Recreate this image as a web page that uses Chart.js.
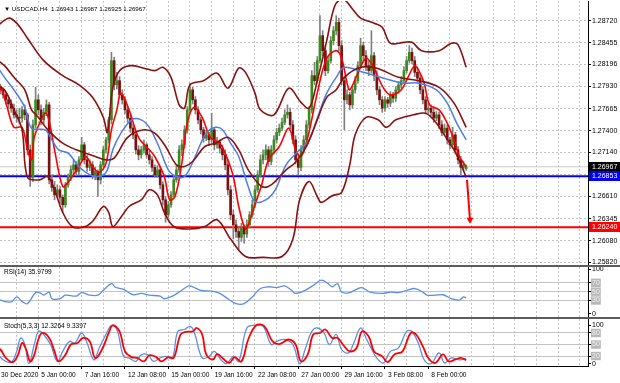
<!DOCTYPE html>
<html>
<head>
<meta charset="utf-8">
<script src="https://cdn.jsdelivr.net/npm/chart.js@4.4.0/dist/chart.umd.min.js"></script>
<style>
  body { margin: 0; width: 620px; height: 383px; overflow: hidden; position: relative; background: #5c5c5c; }
  .pane { position: absolute; left: 0; width: 620px; background: #fff; }
  canvas { display: block; }
  .lbl { position: absolute; left: 4px; font: 6.5px "Liberation Sans", Arial, sans-serif; color: #000; white-space: pre; }
</style>
</head>
<body>
<div class="pane" style="top:0;height:265px"><canvas id="cMain" width="620" height="265"></canvas></div>
<div class="pane" style="top:267px;height:50px"><canvas id="cRsi" width="620" height="50"></canvas></div>
<div class="pane" style="top:319px;height:64px"><canvas id="cSto" width="620" height="64"></canvas></div>
<div class="lbl" id="tMain" style="top:5px;font-size:6.2px"></div>
<div class="lbl" id="tRsi" style="top:268px"></div>
<div class="lbl" id="tSto" style="top:322px"></div>

<script>
// ---- data: USDCAD H4 candles (bar index 0 .. 174) ----
const openP = [
  1.2803,1.2798,1.2793,1.2789,1.2783,1.2777,1.2772,1.2767,1.2759,1.2756,
  1.2755,1.2765,1.2759,1.2717,1.2684,1.2747,1.2777,1.2765,1.2753,1.2762,
  1.2771,1.2681,1.2672,1.2663,1.2669,1.2660,1.2651,1.2675,1.2684,1.2693,
  1.2699,1.2691,1.2705,1.2723,1.2705,1.2696,1.2699,1.2687,1.2691,1.2681,
  1.2699,1.2717,1.2729,1.2753,1.2824,1.2795,1.2800,1.2783,1.2777,1.2765,
  1.2755,1.2743,1.2735,1.2717,1.2711,1.2717,1.2723,1.2711,1.2705,1.2696,
  1.2687,1.2693,1.2675,1.2657,1.2639,1.2651,1.2663,1.2681,1.2693,1.2717,
  1.2723,1.2741,1.2765,1.2789,1.2777,1.2765,1.2753,1.2741,1.2731,1.2735,
  1.2729,1.2741,1.2723,1.2726,1.2719,1.2711,1.2699,1.2669,1.2639,1.2627,
  1.2619,1.2612,1.2624,1.2616,1.2627,1.2639,1.2651,1.2669,1.2687,1.2705,
  1.2711,1.2717,1.2703,1.2717,1.2729,1.2738,1.2743,1.2750,1.2759,1.2762,
  1.2747,1.2729,1.2705,1.2696,1.2717,1.2729,1.2747,1.2765,1.2806,1.2800,
  1.2824,1.2854,1.2836,1.2812,1.2824,1.2848,1.2860,1.2870,1.2842,1.2800,
  1.2777,1.2783,1.2771,1.2789,1.2800,1.2818,1.2842,1.2830,1.2818,1.2812,
  1.2830,1.2806,1.2789,1.2777,1.2767,1.2777,1.2773,1.2783,1.2779,1.2789,
  1.2795,1.2800,1.2812,1.2824,1.2834,1.2824,1.2810,1.2803,1.2789,1.2777,
  1.2765,1.2767,1.2762,1.2755,1.2759,1.2747,1.2738,1.2743,1.2729,1.2723,
  1.2735,1.2717,1.2705,1.2696,1.26943
];
const highP = [
  1.2808,1.2800,1.2796,1.2791,1.2786,1.2780,1.2777,1.2772,1.2765,1.2767,
  1.2769,1.2771,1.2761,1.2723,1.2753,1.2792,1.2783,1.2771,1.2767,1.2777,
  1.2774,1.2687,1.2679,1.2675,1.2673,1.2663,1.2678,1.2688,1.2698,1.2705,
  1.2703,1.2709,1.2732,1.2726,1.2710,1.2705,1.2703,1.2696,1.2693,1.2703,
  1.2721,1.2732,1.2756,1.2834,1.2828,1.2810,1.2805,1.2789,1.2781,1.2769,
  1.2760,1.2748,1.2738,1.2722,1.2721,1.2729,1.2725,1.2716,1.2709,1.2699,
  1.2698,1.2696,1.2679,1.2661,1.2655,1.2667,1.2685,1.2698,1.2722,1.2729,
  1.2746,1.2769,1.2797,1.2792,1.2781,1.2769,1.2756,1.2744,1.2740,1.2738,
  1.2761,1.2744,1.2732,1.2729,1.2723,1.2717,1.2705,1.2674,1.2645,1.2633,
  1.2624,1.2629,1.2627,1.2633,1.2643,1.2657,1.2674,1.2692,1.2711,1.2717,
  1.2723,1.2721,1.2722,1.2734,1.2743,1.2748,1.2755,1.2765,1.2771,1.2767,
  1.2752,1.2734,1.2711,1.2722,1.2734,1.2752,1.2769,1.2812,1.2822,1.2829,
  1.2878,1.2860,1.2842,1.2829,1.2853,1.2865,1.2878,1.2875,1.2848,1.2805,
  1.2789,1.2786,1.2793,1.2805,1.2823,1.2851,1.2846,1.2836,1.2824,1.2860,
  1.2834,1.2812,1.2793,1.2781,1.2781,1.2780,1.2787,1.2786,1.2793,1.2799,
  1.2805,1.2817,1.2829,1.2842,1.2839,1.2829,1.2815,1.2808,1.2793,1.2781,
  1.2773,1.2771,1.2767,1.2763,1.2762,1.2752,1.2748,1.2747,1.2732,1.2744,
  1.2738,1.2721,1.2709,1.2703,1.26987
];
const lowP = [
  1.2793,1.2789,1.2784,1.2779,1.2772,1.2767,1.2762,1.2755,1.2750,1.2748,
  1.2750,1.2753,1.2711,1.2673,1.2679,1.2743,1.2759,1.2747,1.2748,1.2758,
  1.2676,1.2667,1.2657,1.2660,1.2652,1.2642,1.2648,1.2672,1.2680,1.2688,
  1.2686,1.2687,1.2702,1.2700,1.2691,1.2692,1.2682,1.2681,1.2661,1.2676,
  1.2696,1.2713,1.2725,1.2748,1.2789,1.2790,1.2779,1.2772,1.2760,1.2750,
  1.2738,1.2730,1.2712,1.2705,1.2707,1.2713,1.2707,1.2700,1.2691,1.2684,
  1.2684,1.2670,1.2651,1.2630,1.2636,1.2648,1.2660,1.2678,1.2690,1.2710,
  1.2719,1.2737,1.2761,1.2772,1.2760,1.2748,1.2736,1.2726,1.2728,1.2722,
  1.2725,1.2717,1.2719,1.2713,1.2705,1.2693,1.2663,1.2633,1.2610,1.2612,
  1.2598,1.2607,1.2605,1.2612,1.2623,1.2636,1.2648,1.2666,1.2684,1.2700,
  1.2705,1.2697,1.2699,1.2713,1.2725,1.2734,1.2740,1.2747,1.2755,1.2742,
  1.2724,1.2700,1.2687,1.2692,1.2713,1.2725,1.2743,1.2761,1.2795,1.2797,
  1.2821,1.2830,1.2806,1.2809,1.2821,1.2843,1.2855,1.2836,1.2795,1.2741,
  1.2772,1.2765,1.2767,1.2785,1.2797,1.2815,1.2824,1.2812,1.2806,1.2809,
  1.2800,1.2783,1.2771,1.2762,1.2763,1.2768,1.2769,1.2774,1.2775,1.2785,
  1.2791,1.2797,1.2809,1.2821,1.2820,1.2805,1.2798,1.2784,1.2772,1.2760,
  1.2761,1.2758,1.2750,1.2752,1.2742,1.2734,1.2735,1.2724,1.2718,1.2719,
  1.2712,1.2700,1.2686,1.2692,1.26925
];
const closeP = [
  1.2798,1.2793,1.2789,1.2783,1.2777,1.2772,1.2767,1.2759,1.2756,1.2755,
  1.2765,1.2759,1.2717,1.2684,1.2747,1.2777,1.2765,1.2753,1.2762,1.2771,
  1.2681,1.2672,1.2663,1.2669,1.2660,1.2651,1.2675,1.2684,1.2693,1.2699,
  1.2691,1.2705,1.2723,1.2705,1.2696,1.2699,1.2687,1.2691,1.2681,1.2699,
  1.2717,1.2729,1.2753,1.2824,1.2795,1.2800,1.2783,1.2777,1.2765,1.2755,
  1.2743,1.2735,1.2717,1.2711,1.2717,1.2723,1.2711,1.2705,1.2696,1.2687,
  1.2693,1.2675,1.2657,1.2639,1.2651,1.2663,1.2681,1.2693,1.2717,1.2723,
  1.2741,1.2765,1.2789,1.2777,1.2765,1.2753,1.2741,1.2731,1.2735,1.2729,
  1.2741,1.2723,1.2726,1.2719,1.2711,1.2699,1.2669,1.2639,1.2627,1.2619,
  1.2612,1.2624,1.2616,1.2627,1.2639,1.2651,1.2669,1.2687,1.2705,1.2711,
  1.2717,1.2703,1.2717,1.2729,1.2738,1.2743,1.2750,1.2759,1.2762,1.2747,
  1.2729,1.2705,1.2696,1.2717,1.2729,1.2747,1.2765,1.2806,1.2800,1.2824,
  1.2854,1.2836,1.2812,1.2824,1.2848,1.2860,1.2870,1.2842,1.2800,1.2777,
  1.2783,1.2771,1.2789,1.2800,1.2818,1.2842,1.2830,1.2818,1.2812,1.2830,
  1.2806,1.2789,1.2777,1.2767,1.2777,1.2773,1.2783,1.2779,1.2789,1.2795,
  1.2800,1.2812,1.2824,1.2834,1.2824,1.2810,1.2803,1.2789,1.2777,1.2765,
  1.2767,1.2762,1.2755,1.2759,1.2747,1.2738,1.2743,1.2729,1.2723,1.2735,
  1.2717,1.2705,1.2696,1.2699,1.26967
];

// indicator lines: [bar, value]
const bbUpper = [[0,1.2863],[5,1.2875],[8,1.2869],[12,1.2851],[18,1.2824],[25,1.2806],[31,1.2795],[36,1.2780],[40,1.2756],[41.5,1.2738],[43.5,1.2792],[46,1.2812],[50,1.2818],[55,1.2815],[59,1.2812],[62,1.2816],[65,1.2804],[68,1.2771],[70,1.2767],[72,1.2795],[77,1.2800],[82,1.2809],[86,1.2791],[90,1.2815],[92.5,1.2810],[96,1.2785],[98,1.2765],[103,1.2759],[108.5,1.2791],[113,1.2774],[116,1.2767],[119,1.2800],[122.5,1.2848],[125.5,1.2890],[128.5,1.2898],[132,1.2886],[135,1.2875],[140,1.2869],[143,1.2864],[146,1.2845],[151,1.2846],[154,1.2846],[157.5,1.2836],[164,1.2836],[168.5,1.2845],[171,1.2843],[174,1.2816]];
const bbMid = [[0,1.2827],[3.5,1.2818],[7,1.2804],[11,1.2789],[13.5,1.2765],[16,1.2756],[19.5,1.2741],[25,1.2725],[30,1.2717],[33.5,1.2713],[37,1.2709],[41,1.2705],[44,1.2707],[49,1.2732],[55,1.2741],[59,1.2737],[63,1.2721],[67,1.2699],[70,1.2697],[73,1.2703],[77.5,1.2721],[81.5,1.2725],[86,1.2732],[90,1.2717],[93.5,1.2693],[98.5,1.2673],[102,1.2675],[107.5,1.2693],[111,1.2702],[115,1.2721],[119,1.2753],[122.5,1.2780],[126,1.2789],[129,1.2804],[135,1.2816],[141,1.2815],[149,1.2804],[156.5,1.2800],[164,1.2792],[169.5,1.2773],[174,1.2744]];
const bbLower = [[0,1.2795],[3.5,1.2789],[7,1.2765],[10,1.2741],[12,1.2684],[16.5,1.2681],[19.5,1.2685],[22,1.2669],[25,1.2642],[28.5,1.2625],[32.5,1.2624],[36,1.2631],[40,1.2649],[42,1.2642],[43.5,1.2625],[46.5,1.2636],[49.5,1.2649],[54,1.2657],[57,1.2669],[60,1.2663],[62.5,1.2642],[66,1.2625],[72,1.2622],[77.5,1.2625],[82,1.2633],[87,1.2610],[92.5,1.2589],[99,1.2588],[106,1.2589],[110,1.2610],[112.5,1.2657],[116,1.2679],[119,1.2661],[120.5,1.2654],[124.5,1.2662],[128,1.2666],[131,1.2699],[133,1.2735],[137,1.2756],[141.5,1.2753],[144.5,1.2744],[148,1.2753],[154.5,1.2759],[159,1.2761],[162,1.2753],[165.5,1.2737],[170.5,1.2711],[174,1.2684]];
const maBlue = [[0,1.2821],[3.5,1.2804],[7,1.2789],[11,1.2768],[13.5,1.2743],[18.5,1.2741],[21,1.2729],[23.5,1.2717],[27,1.2713],[31,1.2697],[33.5,1.2690],[37,1.2685],[41,1.2690],[43.5,1.2717],[46.5,1.2737],[50.5,1.2753],[54,1.2753],[57,1.2744],[60.5,1.2721],[64,1.2693],[67,1.2685],[70,1.2685],[73,1.2702],[75.5,1.2721],[78,1.2737],[81.5,1.2744],[84,1.2741],[87,1.2725],[90,1.2709],[93.5,1.2673],[96,1.2655],[100,1.2657],[103.5,1.2669],[107.5,1.2699],[112.5,1.2717],[116,1.2729],[119,1.2755],[122.5,1.2785],[126,1.2804],[129,1.2816],[136,1.2810],[143.5,1.2803],[151,1.2797],[156.5,1.2797],[163,1.2789],[167,1.2773],[170.5,1.2749],[174,1.2729]];
const maRed = [[0,1.2800],[2.5,1.2789],[4.5,1.2768],[7,1.2744],[10,1.2744],[12,1.2717],[13.5,1.2705],[14.5,1.2732],[17.5,1.2756],[19,1.2761],[20.5,1.2744],[22,1.2717],[25,1.2673],[27,1.2678],[31,1.2697],[33.5,1.2709],[36,1.2697],[38.5,1.2690],[41,1.2701],[43,1.2741],[45,1.2765],[46.5,1.2785],[49.5,1.2765],[53,1.2732],[57,1.2717],[59,1.2709],[62.5,1.2685],[64.5,1.2657],[66.5,1.2661],[69,1.2701],[71,1.2749],[73.5,1.2768],[76.5,1.2756],[79.5,1.2732],[83,1.2725],[85.5,1.2709],[88,1.2685],[90,1.2649],[92.5,1.2622],[94,1.2631],[96,1.2651],[98.5,1.2675],[101,1.2705],[105,1.2721],[108.5,1.2743],[111,1.2717],[113,1.2709],[115.5,1.2732],[119,1.2785],[122.5,1.2827],[126,1.2836],[128,1.2827],[130,1.2797],[131,1.2789],[134,1.2809],[137,1.2827],[139.5,1.2818],[141.5,1.2804],[143.5,1.2791],[146,1.2783],[150,1.2789],[152.5,1.2804],[155,1.2818],[156.5,1.2812],[158.5,1.2797],[160.5,1.2771],[164,1.2765],[167,1.2749],[169.5,1.2729],[171.5,1.2709],[174,1.2697]];

const rsi = [[0,42],[2,31],[6,27],[8,38],[10,28],[12,23],[15,48],[17,46],[18,42],[20,49],[21,34],[24,34],[26,42],[30,40],[32,48],[35,42],[38,42],[40,53],[43,68],[44.5,60],[47.5,55],[51,43],[54,46],[57,42],[61,40],[62.5,34],[65.5,40],[68.5,51],[71.5,63],[73,61],[76,53],[80,51],[83,46],[86,34],[89,23],[92,23],[95,38],[98,57],[101,61],[104,59],[107,63],[109.5,53],[111,46],[114.5,53],[117.5,64],[120.5,76],[123,68],[124.5,61],[126.5,68],[128,49],[131,48],[134,57],[135.5,59],[138.5,49],[143,46],[146,49],[149,48],[152,53],[155,57],[158,49],[159.5,42],[162.5,42],[165.5,43],[168.5,34],[171.5,31],[173,38],[174,36]];
const stochK = [[0,36],[3,10],[6,4],[8,32],[9.5,67],[11,50],[12.5,0],[14.5,50],[16,84],[17.5,80],[20.5,50],[23,6],[25,32],[27.5,58],[29.5,54],[32,80],[34,54],[36.5,10],[38.5,41],[41.5,84],[43,100],[45,89],[47.5,19],[49.5,15],[52,6],[54,23],[56.5,23],[58.5,6],[61,15],[63,19],[65.5,15],[67.5,84],[70,89],[72,97],[73.5,84],[76.5,15],[79,19],[81,32],[83.5,10],[85.5,0],[88,19],[90,6],[93,93],[96,100],[99,97],[102,50],[104,58],[107,63],[110,50],[112.5,0],[114.5,37],[117,84],[119,93],[121.5,80],[123.5,50],[126,76],[128,37],[130.5,28],[132.5,54],[135,93],[137,67],[139.5,32],[141.5,10],[143.5,2],[146,32],[149,41],[152,84],[154,84],[156.5,50],[158.5,10],[161,0],[164,28],[166,2],[168.5,15],[171.5,10],[174,12.3]];
const stochD = [[0,45],[2,37],[4,15],[6.5,4],[8.5,23],[10,54],[11.5,37],[13,6],[14.5,23],[16,63],[17.5,80],[20,67],[22,32],[23.5,6],[26,23],[28,50],[30.5,54],[32.5,67],[35,58],[37,15],[39.5,37],[42,80],[43.5,100],[46,84],[48,32],[50.5,17],[52.5,15],[55,6],[57,22],[59.5,17],[61.5,6],[64,17],[66,15],[68.5,76],[70.5,83],[73,84],[74.5,93],[76.5,76],[78,24],[80.5,11],[82,25],[84,15],[86.5,2],[88.5,17],[91,6],[93.5,63],[96.5,100],[99.5,97],[102.5,58],[105,51],[108.5,63],[111,50],[113,6],[115.5,24],[117.5,76],[120,80],[122,89],[124.5,67],[126.5,67],[129,45],[131,32],[133.5,41],[135.5,84],[138,71],[140,32],[143,19],[145,4],[147.5,24],[150.5,32],[153.5,80],[155.5,76],[158,45],[160,15],[162.5,2],[165.5,24],[167.5,6],[170,11],[172,15],[174,9.3]];

const rsiNow = '35.9799';
const stochNow = ['12.3264', '9.3397'];
const blueLevel = 1.26853;
const redLevel = 1.26240;
const arrowBars = [174.3, 175.4];
const arrowPrices = [1.2681, 1.2633];

const priceTicks = [1.28720, 1.28455, 1.28196, 1.27930, 1.27665, 1.27400, 1.27140, 1.26875, 1.26610, 1.26345, 1.26080, 1.25820];
const rsiTicks = [0, 30, 50, 70, 100];
const stochTicks = [0, 20, 50, 80, 100];
const timeBars = [1.1, 16, 32, 48, 64, 80, 96, 112, 128, 144, 160];
const timeLabels = ['30 Dec 2020', '5 Jan 00:00', '7 Jan 16:00', '12 Jan 08:00', '15 Jan 00:00', '19 Jan 16:00', '22 Jan 08:00', '27 Jan 00:00', '29 Jan 16:00', '3 Feb 08:00', '8 Feb 00:00'];

// ---- look ----
const FONT = '"Liberation Sans", Arial, sans-serif';
const GRID = '#c4c4c4';
const X_MIN = 1.85, X_MAX = 218.98;
const last = closeP.length - 1;

Chart.defaults.font.family = FONT;
Chart.defaults.font.size = 7;

const pts = arr => arr.map(p => ({ x: p[0], y: p[1] }));
const lineDs = (arr, color, width) => ({
  type: 'line', data: pts(arr), borderColor: color, borderWidth: width,
  pointRadius: 0, tension: 0.35, fill: false, order: 0
});
const flat = (v, color, width, order) => ({
  type: 'line', data: [{ x: X_MIN, y: v }, { x: X_MAX, y: v }],
  borderColor: color, borderWidth: width, pointRadius: 0, order: order
});

// vertical dashed grid every 8 bars
const xGrid = () => ({
  type: 'linear', position: 'top', min: X_MIN, max: X_MAX, offset: false,
  afterBuildTicks: s => { const t = []; for (let b = 8; b < X_MAX; b += 8) t.push({ value: b }); s.ticks = t; },
  afterFit: s => { s.height = 0; s.paddingLeft = 0; s.paddingRight = 0; },
  ticks: { display: false },
  grid: { color: GRID, drawTicks: false, offset: false },
  border: { display: false, dash: [2, 2] }
});

const rightAxis = (min, max, vals, fmt, levels, dash) => ({
  position: 'right', min: min, max: max,
  afterBuildTicks: s => { s.ticks = vals.map(v => ({ value: v })); },
  afterFit: s => { s.width = 32; s.paddingTop = 0; s.paddingBottom = 0; },
  ticks: {
    autoSkip: false, padding: 1, callback: fmt,
    color: c => levels.includes(c.tick.value) ? '#f2f2f2' : '#000',
    showLabelBackdrop: c => levels.includes(c.tick.value),
    backdropColor: '#b8b8b8', backdropPadding: { x: 1, y: 0 }
  },
  grid: {
    color: c => (levels.length && !levels.includes(c.tick.value)) ? 'rgba(0,0,0,0)' : GRID,
    tickColor: '#000', tickLength: 3
  },
  border: { display: true, color: '#000', dash: dash }
});

const baseOpts = {
  responsive: false, animation: false, events: [],
  plugins: { legend: { display: false }, tooltip: { enabled: false } }
};

// price tags on the right axis
const tags = [
  { value: closeP[last], bg: '#000000' },
  { value: blueLevel, bg: '#0000ff' },
  { value: redLevel, bg: '#ff0000' }
];
const tagPlugin = {
  id: 'tags',
  afterDraw(chart) {
    const { ctx, chartArea } = chart;
    const y = chart.scales.y;
    ctx.save();
    ctx.font = '7px ' + FONT;
    ctx.textBaseline = 'middle';
    tags.forEach(t => {
      const py = y.getPixelForValue(t.value);
      ctx.fillStyle = t.bg;
      ctx.fillRect(chartArea.right + 1, Math.round(py) - 5, 31, 10);
      ctx.fillStyle = '#fff';
      ctx.fillText(t.value.toFixed(5), chartArea.right + 4, Math.round(py) + 0.5);
    });
    ctx.restore();
  }
};

// ---- main price pane ----
const bars = closeP.map((_, i) => i);
new Chart(document.getElementById('cMain'), {
  type: 'bar',
  data: {
    datasets: [
      lineDs(bbUpper, '#8b1010', 1.6),
      lineDs(bbMid, '#8b1010', 1.6),
      lineDs(bbLower, '#8b1010', 1.6),
      lineDs(maBlue, '#4c7fe6', 1.5),
      lineDs(maRed, '#ff0000', 1.6),
      {
        type: 'line', data: pts([[arrowBars[0], arrowPrices[0]], [arrowBars[1], arrowPrices[1]]]),
        borderColor: '#ff0000', borderWidth: 2, pointRadius: [0, 4], pointStyle: 'triangle',
        rotation: 180, pointBackgroundColor: '#ff0000', pointBorderWidth: 0, order: 0, clip: false
      },
      {
        data: bars.map(i => ({ x: i, y: [openP[i], closeP[i]] })),
        backgroundColor: bars.map(i => closeP[i] >= openP[i] ? '#3a8a1c' : '#7a1010'),
        barThickness: 2, grouped: false, minBarLength: 1, order: 1
      },
      {
        data: bars.map(i => ({ x: i, y: [lowP[i], highP[i]] })),
        backgroundColor: '#808080', barThickness: 1, grouped: false, order: 2
      },
      flat(closeP[last], '#c8c8c8', 1, 3),
      flat(blueLevel, '#0000ff', 2, 3),
      flat(redLevel, '#ff0000', 2, 3)
    ]
  },
  options: Object.assign({}, baseOpts, {
    layout: { autoPadding: false, padding: { top: 1, left: 0, right: 0, bottom: 0 } },
    scales: {
      x: xGrid(),
      y: rightAxis(1.25788, 1.28956, priceTicks, v => v.toFixed(5), [], [2, 2])
    }
  }),
  plugins: [tagPlugin]
});

// ---- RSI pane ----
const rsiAxis = rightAxis(-7.2, 105.6, rsiTicks, v => String(v), [30, 50, 70], []);
new Chart(document.getElementById('cRsi'), {
  type: 'line',
  data: { datasets: [lineDs(rsi, '#5b8ee8', 1.3)] },
  options: Object.assign({}, baseOpts, {
    layout: { autoPadding: false, padding: 0 },
    scales: { x: xGrid(), y: rsiAxis }
  })
});

// ---- Stochastic pane ----
const stoAxis = rightAxis(-6, 116.4, stochTicks, v => String(v), [20, 50, 80], []);
new Chart(document.getElementById('cSto'), {
  type: 'line',
  data: {
    datasets: [
      Object.assign(lineDs(stochD, '#ff0000', 1.8), { tension: 0.4 }),
      Object.assign(lineDs(stochK, '#5b8ee8', 1.3), { tension: 0.4 })
    ]
  },
  options: Object.assign({}, baseOpts, {
    layout: { autoPadding: false, padding: 0 },
    scales: {
      x: xGrid(),
      x2: {
        type: 'linear', position: 'bottom', min: X_MIN, max: X_MAX, offset: false,
        afterBuildTicks: s => { s.ticks = timeBars.map(v => ({ value: v })); },
        afterFit: s => { s.height = 17; s.paddingLeft = 0; s.paddingRight = 0; },
        ticks: { autoSkip: false, maxRotation: 0, align: 'start', labelOffset: 3, padding: 2, color: '#000', font: { size: 6.6 }, callback: (v, i) => timeLabels[i] },
        grid: { drawOnChartArea: false, tickColor: '#000', tickLength: 3, offset: false },
        border: { display: true, color: '#000' }
      },
      y: stoAxis
    }
  })
});

// panel captions
document.getElementById('tMain').textContent =
  '\u25BC USDCAD.H4  ' + [openP[last], highP[last], lowP[last], closeP[last]].map(v => v.toFixed(5)).join(' ');
document.getElementById('tRsi').textContent = 'RSI(14) ' + rsiNow;
document.getElementById('tSto').textContent = 'Stoch(5,3,3) ' + stochNow.join(' ');
</script>
</body>
</html>
